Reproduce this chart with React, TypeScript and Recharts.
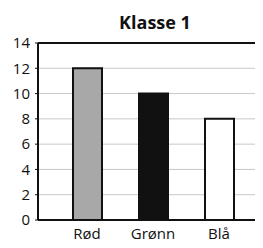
import React from 'react';
import { BarChart, Bar, XAxis, YAxis, CartesianGrid, ReferenceLine, Cell } from 'recharts';

const categories = ['Rød', 'Grønn', 'Blå'];
const values = [12, 10, 8];
const barColors = ['#a8a8a8', '#111111', '#ffffff'];
const yTicks = [0, 2, 4, 6, 8, 10, 12, 14];

const data = categories.map((name, i) => ({ name, value: values[i] }));

const font = '"Open Sans", "DejaVu Sans", sans-serif';

export default function App() {
  return (
    <div style={{ position: 'relative', width: 255, height: 240, overflow: 'hidden', fontFamily: font }}>
      <div
        style={{
          position: 'absolute',
          left: 87,
          width: 120,
          top: 1,
          textAlign: 'center',
          fontWeight: 'bold',
          fontSize: 18,
          lineHeight: '26px',
          color: '#111',
        }}
      >
        Klasse 1
      </div>
      <BarChart
        width={262}
        height={240}
        data={data}
        margin={{ top: 35, right: 0, left: 0, bottom: 0 }}
        barCategoryGap={0}
      >
        <CartesianGrid vertical={false} stroke="#c8c8c8" strokeWidth={1} />
        <XAxis
          dataKey="name"
          height={28}
          padding={{ left: 16, right: 18 }}
          tickLine={false}
          axisLine={{ stroke: '#111', strokeWidth: 2 }}
          tick={{ fill: '#111', fontSize: 15, fontFamily: font }}
          tickMargin={2}
        />
        <YAxis
          width={30}
          domain={[0, 14]}
          ticks={yTicks}
          interval={0}
          tickSize={3}
          tickMargin={5}
          tickLine={{ stroke: '#111' }}
          axisLine={{ stroke: '#111', strokeWidth: 2 }}
          tick={{ fill: '#111', fontSize: 15, fontFamily: font }}
        />
        <ReferenceLine y={14} stroke="#111" strokeWidth={2} />
        <Bar dataKey="value" barSize={29} stroke="#111" strokeWidth={2} isAnimationActive={false}>
          {data.map((d, i) => (
            <Cell key={d.name} fill={barColors[i]} />
          ))}
        </Bar>
      </BarChart>
    </div>
  );
}
